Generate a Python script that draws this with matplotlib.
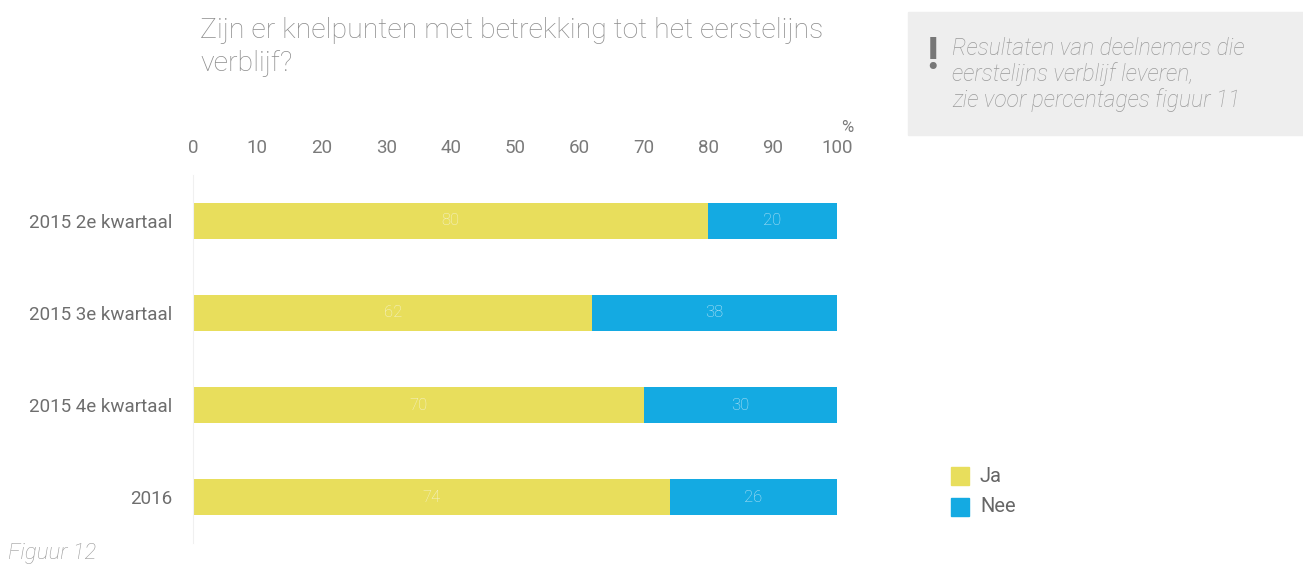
import matplotlib
matplotlib.use("Agg")
from matplotlib import pyplot as plt
from matplotlib.patches import Rectangle

plt.rcParams['font.family'] = ['Roboto', 'DejaVu Sans']

categories = ["2015 2e kwartaal", "2015 3e kwartaal", "2015 4e kwartaal", "2016"]
ja = [80, 62, 70, 74]
nee = [20, 38, 30, 26]
ticks = [0, 10, 20, 30, 40, 50, 60, 70, 80, 90, 100]

yellow = "#E8DE5C"
blue = "#14AAE2"
gray = "#8C8C8C"

W, H = 1303, 564
fig = plt.figure(figsize=(W / 100, H / 100), dpi=100)
ax = fig.add_axes([193 / W, 1 - 543 / H, (837 - 193) / W, (543 - 175) / H])

y = list(range(len(categories)))
ax.barh(y, ja, height=0.4, color=yellow, label="Ja")
ax.barh(y, nee, left=ja, height=0.4, color=blue, label="Nee")

for i in y:
    ax.text(ja[i] / 2, i, str(ja[i]), ha="center", va="center",
            color="#F6F3D0", fontsize=12, fontweight="light")
    ax.text(ja[i] + nee[i] / 2, i, str(nee[i]), ha="center", va="center",
            color="#BFE6F6", fontsize=12, fontweight="light")

ax.set_xlim(0, 100)
ax.set_ylim(3.5, -0.5)
ax.set_xticks(ticks)
ax.xaxis.tick_top()
ax.tick_params(axis="x", length=0, pad=13, labelsize=13.5, labelcolor="#7A7A7A")
ax.set_yticks(y)
ax.set_yticklabels(categories)
ax.tick_params(axis="y", length=0, pad=15, labelsize=13.5, labelcolor="#6E6E6E")
for s in ["top", "right", "bottom"]:
    ax.spines[s].set_visible(False)
ax.spines["left"].set_color("#F0F0F0")

fig.text(853 / W, 1 - 128 / H, "%", ha="right", va="center", fontsize=12, color="#7A7A7A")

fig.text(200 / W, 1 - 30 / H, "Zijn er knelpunten met betrekking tot het eerstelijns",
         ha="left", va="center", fontsize=20.5, color=gray, fontweight="light")
fig.text(200 / W, 1 - 64 / H, "verblijf?", ha="left", va="center",
         fontsize=20.5, color=gray, fontweight="light")

fig.patches.append(Rectangle((908 / W, 1 - 135 / H), (W - 908) / W, 123 / H,
                             transform=fig.transFigure, color="#EEEEEE", zorder=0))
fig.text(932 / W, 1 - 57 / H, "!", ha="center", va="center", fontsize=32,
         color="#777777", fontweight="bold")
note = ["Resultaten van deelnemers die", "eerstelijns verblijf leveren,",
        "zie voor percentages figuur 11"]
for k, line in enumerate(note):
    fig.text(952 / W, 1 - (48 + 26 * k) / H, line, ha="left", va="center",
             fontsize=16.5, color="#9A9A9A", style="italic", fontweight="light")

fig.patches.append(Rectangle((951 / W, 1 - 485 / H), 18 / W, 18 / H,
                             transform=fig.transFigure, color=yellow))
fig.patches.append(Rectangle((951 / W, 1 - 516 / H), 18 / W, 18 / H,
                             transform=fig.transFigure, color=blue))
fig.text(980 / W, 1 - 476 / H, "Ja", ha="left", va="center", fontsize=14.5, color="#666666")
fig.text(980 / W, 1 - 507 / H, "Nee", ha="left", va="center", fontsize=14.5, color="#666666")

fig.text(8 / W, 1 - 553 / H, "Figuur 12", ha="left", va="center", fontsize=16,
         color="#9A9A9A", style="italic", fontweight="light")

fig.savefig("out.png", dpi=100)
